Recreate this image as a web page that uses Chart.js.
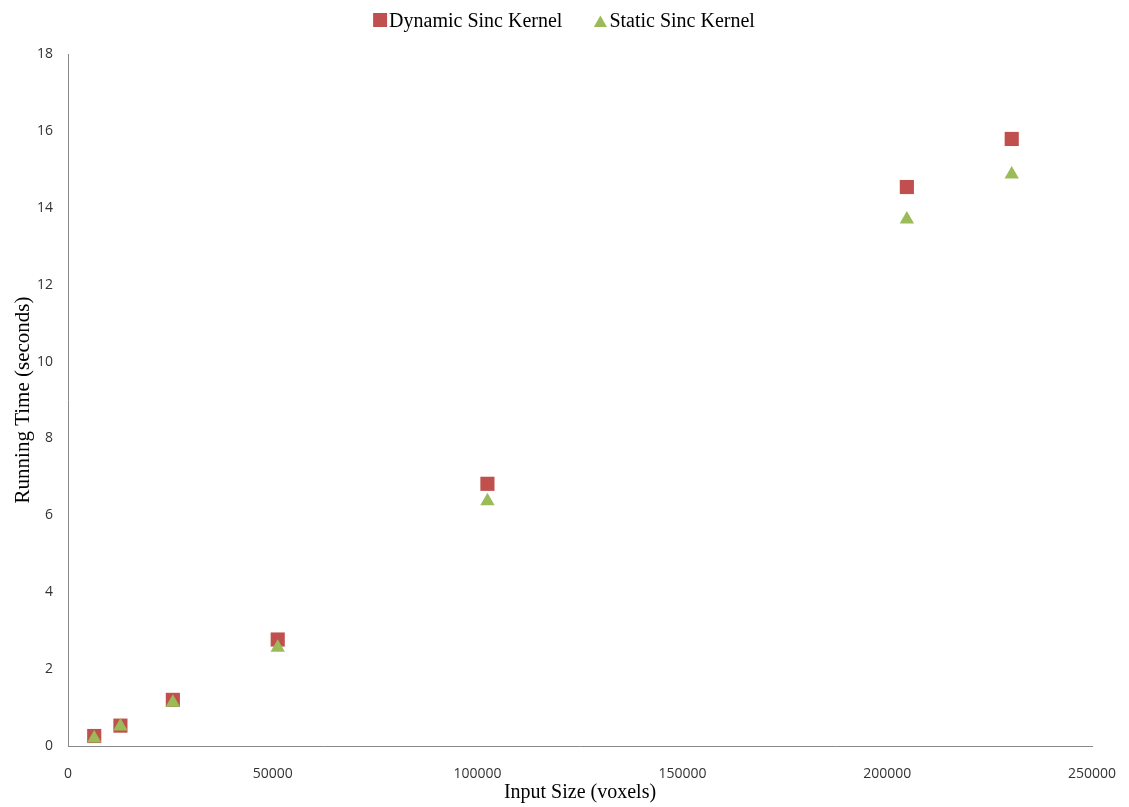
<!DOCTYPE html>
<html>
<head>
<meta charset="utf-8">
<script src="https://cdn.jsdelivr.net/npm/chart.js@4/dist/chart.umd.min.js"></script>
<style>
html,body{margin:0;padding:0;background:#fff;}
canvas{display:block;}
</style>
</head>
<body>
<canvas id="c" width="1129" height="807"></canvas>
<script>
const inputSizes = [6400, 12800, 25600, 51200, 102400, 204800, 230400];
const dynamicTimes = [0.26, 0.53, 1.20, 2.77, 6.82, 14.54, 15.79];
const staticTimes = [0.20, 0.51, 1.13, 2.56, 6.37, 13.70, 14.87];
const seriesNames = ['Dynamic Sinc Kernel', 'Static Sinc Kernel'];

const toPoints = (xs, ys) => xs.map((x, i) => ({x: x, y: ys[i]}));

// Legend drawn in the style of the original (marker tight against text)
const legendPlugin = {
  id: 'tightLegend',
  afterDraw(chart) {
    const ctx = chart.ctx;
    const metas = chart.data.datasets;
    ctx.save();
    ctx.font = '20px "Liberation Serif", serif';
    ctx.textBaseline = 'alphabetic';
    ctx.textAlign = 'left';
    const markerW = 14, markerGap = 2, itemGap = 31;
    const widths = metas.map(ds => ctx.measureText(ds.label).width);
    let total = 0;
    widths.forEach((w, i) => { total += markerW + markerGap + w + (i < widths.length - 1 ? itemGap : 0); });
    let x = 564 - total / 2;
    const baseline = 27;
    metas.forEach((ds, i) => {
      ctx.fillStyle = ds.backgroundColor;
      ctx.strokeStyle = ds.backgroundColor;
      const isTri = ds.pointStyle === 'triangle';
      const r = isTri ? 7.6 : 9.9;
      const cy = isTri ? baseline - r / 2 : 20;
      Chart.helpers.drawPoint(ctx, {pointStyle: ds.pointStyle, radius: r, rotation: 0, borderWidth: 0}, x + markerW / 2, cy);
      ctx.fillStyle = '#000';
      ctx.fillText(ds.label, x + markerW + markerGap, baseline);
      x += markerW + markerGap + widths[i] + itemGap;
    });
    ctx.restore();
  }
};

new Chart(document.getElementById('c'), {
  type: 'scatter',
  data: {
    datasets: [
      {
        label: seriesNames[0],
        data: toPoints(inputSizes, dynamicTimes),
        pointStyle: 'rect',
        pointRadius: 10,
        pointHoverRadius: 10,
        backgroundColor: '#C0504D',
        borderColor: '#C0504D',
        borderWidth: 0,
        order: 1
      },
      {
        label: seriesNames[1],
        data: toPoints(inputSizes, staticTimes),
        pointStyle: 'triangle',
        pointRadius: 8.3,
        pointHoverRadius: 8.3,
        backgroundColor: '#9BBB59',
        borderColor: '#9BBB59',
        borderWidth: 0,
        order: 0
      }
    ]
  },
  plugins: [legendPlugin],
  options: {
    responsive: false,
    animation: false,
    layout: {padding: {top: 54, right: 37, left: 11, bottom: 0}},
    plugins: {
      legend: {display: false},
      tooltip: {enabled: false}
    },
    scales: {
      x: {
        type: 'linear',
        min: 0,
        max: 250000,
        ticks: {
          stepSize: 50000,
          color: '#333',
          font: {family: '"Open Sans", sans-serif', size: 14},
          maxRotation: 0,
          padding: 12,
          callback: v => String(v)
        },
        grid: {display: false},
        border: {display: true, color: '#898989', width: 1},
        title: {
          display: true,
          text: 'Input Size (voxels)',
          color: '#000',
          font: {family: '"Liberation Serif", serif', size: 20},
          padding: {top: 0, bottom: 2}
        },
        afterFit: s => { s.height = 61; }
      },
      y: {
        type: 'linear',
        min: 0,
        max: 18,
        ticks: {
          stepSize: 2,
          color: '#333',
          font: {family: '"Open Sans", sans-serif', size: 14},
          padding: 7,
          callback: v => String(v)
        },
        grid: {display: false},
        border: {display: true, color: '#898989', width: 1},
        title: {
          display: true,
          text: 'Running Time (seconds)',
          color: '#000',
          font: {family: '"Liberation Serif", serif', size: 21},
          padding: {top: 0, bottom: 0}
        },
        afterFit: s => { s.width = 57; }
      }
    }
  }
});
</script>
</body>
</html>
